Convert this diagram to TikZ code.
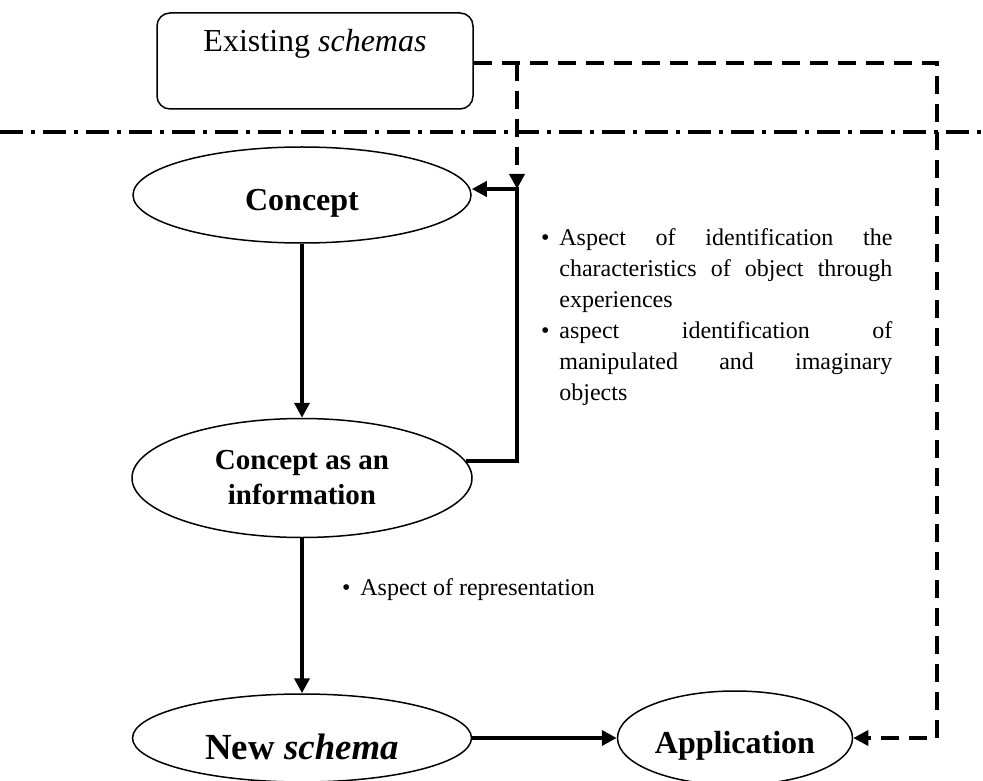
\documentclass[tikz,border=0pt]{standalone}
\usepackage{fontspec}
\setmainfont{Liberation Serif}
\usepackage{tikz}
\usetikzlibrary{arrows.meta}
\usetikzlibrary{shapes.geometric}

\begin{document}
\begin{tikzpicture}[x = 0.5pt, y = -0.5pt]
		\tikzset{oval/.style={shape = ellipse, draw, line width = 0.75pt, inner sep = 0pt, align = center, font = \bfseries\fontsize{16}{18}\selectfont}}
		\tikzset{low/.style={text height = #1, text depth = 0pt}}
		\tikzset{flow/.style={line width = 2pt, -{Triangle[length = 7.5pt, width = 7.5pt]}}}
		\tikzset{link/.style={line width = 1.75pt, dash pattern = on 9pt off 5pt, -{Triangle[length = 7.5pt, width = 7.5pt]}}}
		\tikzset{divider/.style={line width = 2pt, dash pattern = on 11.5pt off 4pt on 2pt off 4pt}}
		\tikzset{note/.style={inner sep = 0pt, font = \fontsize{12}{15.5}\selectfont}}
		\useasboundingbox (0, 0) rectangle (983, 780);
		%divider
		\draw[divider] (0, 132) -- (983, 132);
		%nodes
		\node[draw, rounded corners = 6.5pt, line width = 0.75pt, inner sep = 0pt, minimum width = 158pt, text height = 19.5pt, text depth = 28.5pt, font = \fontsize{16}{18}\selectfont] (old) at (315, 61) {Existing \textit{schemas}};
		\node[oval, low = 16pt, minimum width = 169pt, minimum height = 48pt] (concept) at (302, 195) {Concept};
		\node[oval, minimum width = 170pt, minimum height = 59.5pt, font = \bfseries\fontsize{14.5}{17.5}\selectfont] (info) at (302, 478) {Concept as an\\information};
		\node[oval, low = 21pt, minimum width = 169.5pt, minimum height = 44pt, font = \bfseries\fontsize{18.4}{20}\selectfont] (new) at (302, 738) {New \textit{schema}};
		\node[oval, low = 15pt, minimum width = 117.5pt, minimum height = 47pt] (app) at (735, 738) {Application};
		%notes
		\node[note, text width = 166.5pt, align = justify, anchor = north west] (aspects) at (559, 228) {\noindent\llap{\textbullet\hspace{5pt}}Aspect of identification the\linebreak characteristics of object through\linebreak experiences\par
			\noindent\llap{\textbullet\hspace{5pt}}aspect identification of\linebreak manipulated and imaginary\linebreak objects};
		\node[note, anchor = base west] (repr) at (360, 595) {\llap{\textbullet\hspace{5pt}}Aspect of representation};
		%edges
		\coordinate (split) at (517, 63);
		\coordinate (turn) at (517, 189);
		\coordinate (corner) at (937, 738);
		\draw[flow] (concept) -- (info);
		\draw[flow] (info) -- (new);
		\draw[flow] (new) -- (app);
		\draw[flow] (info.6) -| (turn) -- (concept.east |- turn);
		\draw[link] (split) -- (turn);
		\draw[link] (old.east |- split) -| (corner) -- (app);
\end{tikzpicture}
\end{document}
